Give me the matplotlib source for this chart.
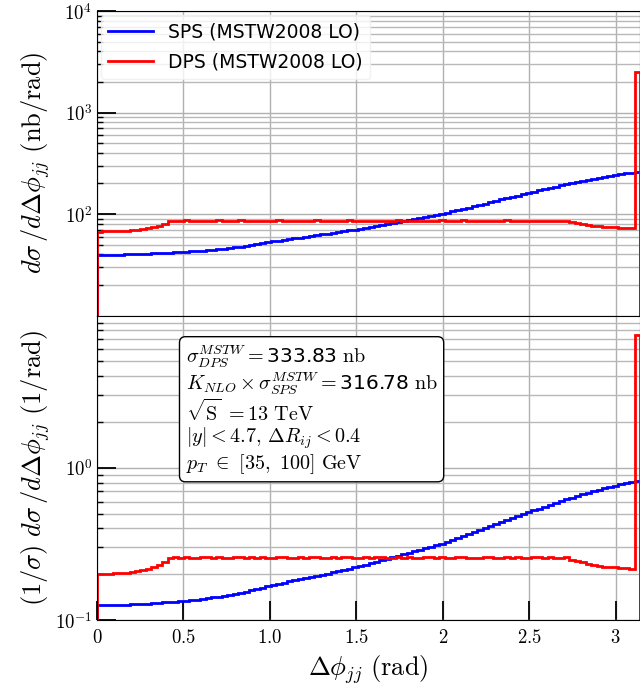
import numpy as np
import matplotlib
matplotlib.use('Agg')
import matplotlib.pyplot as plt
from matplotlib.ticker import FixedLocator, FuncFormatter, LogLocator, NullFormatter

plt.rcParams['font.family'] = ['DejaVu Sans']
plt.rcParams['mathtext.fontset'] = 'cm'

# 100 bins over [0, pi]
n_bins = 100
edges = np.linspace(0, np.pi, n_bins + 1)

# dsigma/dDphi (nb/rad)
sps = [39.6, 39.7, 39.7, 39.8, 39.9, 40.0, 40.2, 40.3, 40.5, 40.7,
       40.9, 41.1, 41.4, 41.6, 41.9, 42.1, 42.4, 42.8, 43.2, 43.6,
       44.1, 44.6, 45.1, 45.7, 46.3, 47.0, 47.8, 48.7, 49.6, 50.6,
       51.6, 52.8, 53.8, 54.8, 55.8, 56.8, 57.7, 58.6, 59.6, 60.7,
       61.8, 62.9, 64.0, 65.1, 66.3, 67.6, 68.9, 70.3, 71.8, 73.4,
       75.1, 76.8, 78.5, 80.3, 82.1, 84.0, 85.9, 87.8, 89.9, 92.0,
       94.2, 96.4, 98.6, 100.8, 103.5, 106.3, 109.2, 112.5, 115.9, 119.4,
       123.0, 126.8, 130.8, 134.9, 139.1, 143.4, 147.7, 152.2, 156.9, 161.6,
       166.4, 171.2, 176.1, 181.1, 186.2, 191.3, 196.4, 201.5, 206.6, 211.9,
       217.2, 222.4, 227.6, 232.7, 237.6, 242.3, 247.0, 251.5, 255.5, 259.0]

dps = [67.3, 67.4, 67.5, 67.8, 68.0, 68.5, 69.3, 70.2, 71.4, 72.7,
       74.0, 76.5, 80.0, 85.8, 86.2, 85.9, 86.4, 86.0, 85.7, 86.3,
       86.1, 85.8, 86.4, 86.0, 85.6, 86.2, 86.5, 85.9, 86.1, 85.7,
       86.3, 86.0, 85.8, 86.4, 86.1, 85.6, 86.0, 86.3, 85.9, 86.2,
       86.5, 85.8, 86.0, 86.3, 85.7, 86.1, 86.4, 85.9, 86.0, 86.2,
       85.6, 86.1, 86.3, 85.9, 86.0, 86.4, 85.8, 86.2, 86.0, 85.7,
       86.3, 86.1, 85.9, 86.4, 86.0, 85.8, 86.2, 86.5, 85.9, 86.0,
       85.7, 86.3, 86.1, 85.8, 86.0, 86.4, 85.9, 86.2, 86.0, 85.7,
       86.3, 86.1, 85.9, 86.2, 86.0, 85.8, 86.1, 83.0, 81.5, 80.0,
       78.5, 77.0, 76.0, 75.0, 74.5, 74.0, 73.5, 73.0, 72.8, 2480.0]

sigma_dps = 333.83   # nb
sigma_sps = 316.78   # nb (K_NLO x sigma_SPS)

fig, (ax1, ax2) = plt.subplots(2, 1, sharex=True, figsize=(6.4, 6.89), dpi=100)
fig.subplots_adjust(left=0.1516, right=1.0, top=0.984, bottom=0.1, hspace=0)

base = 1e-4
ax1.stairs(sps, edges, baseline=base, color='blue', lw=2, label='SPS (MSTW2008 LO)')
ax1.stairs(dps, edges, baseline=base, color='red', lw=2, label='DPS (MSTW2008 LO)')
ax2.stairs(np.array(sps) / sigma_sps, edges, baseline=base, color='blue', lw=2)
ax2.stairs(np.array(dps) / sigma_dps, edges, baseline=base, color='red', lw=2)

ax1.set_yscale('log')
ax2.set_yscale('log')
ax1.set_ylim(10, 1e4)
ax2.set_ylim(0.1, 10)
ax2.set_xlim(0, np.pi)

xt = [0, 0.5, 1.0, 1.5, 2, 2.5, 3]
xt_labels = ['$0$', '$0.5$', '$1.0$', '$1.5$', '$2$', '$2.5$', '$3$']
ax2.xaxis.set_major_locator(FixedLocator(xt))
ax2.set_xticklabels(xt_labels)

def logfmt(v, pos):
    return r'$10^{%d}$' % int(round(np.log10(v)))

ax1.yaxis.set_major_locator(FixedLocator([1e2, 1e3, 1e4]))
ax2.yaxis.set_major_locator(FixedLocator([1e-1, 1e0]))
for ax in (ax1, ax2):
    ax.yaxis.set_major_formatter(FuncFormatter(logfmt))
    ax.yaxis.set_minor_locator(LogLocator(base=10, subs=np.arange(2, 10), numticks=20))
    ax.yaxis.set_minor_formatter(NullFormatter())
    ax.grid(True, which='major', color='#b0b0b0', lw=1)
    ax.grid(True, which='minor', axis='y', color='#b8b8b8', lw=1)
    ax.tick_params(axis='y', which='major', direction='in', length=14, width=1.3, labelsize=13.5)
    ax.tick_params(axis='y', which='minor', direction='in', length=4, width=1)
    ax.set_axisbelow(True)

ax1.tick_params(axis='x', which='both', length=0)
ax2.tick_params(axis='x', which='major', direction='in', length=14, width=1.3, labelsize=13.5, pad=6)

ax1.set_ylabel(r'$d\sigma\,/d\Delta\phi_{jj}\ (\mathrm{nb/rad})$', fontsize=19, labelpad=2)
ax2.set_ylabel(r'$(1/\sigma)\ d\sigma\,/d\Delta\phi_{jj}\ (1/\mathrm{rad})$', fontsize=19, labelpad=2)
ax2.set_xlabel(r'$\Delta\phi_{jj}\ (\mathrm{rad})$', fontsize=19)
fig.align_ylabels([ax1, ax2])

ax1.legend(loc='upper left', fontsize=13.5, handlelength=2.4, borderaxespad=0.2,
           labelspacing=0.6, framealpha=0.8, edgecolor='#eeeeee', fancybox=True)

info = '\n'.join([
    r'$\sigma_{DPS}^{MSTW}=$' + '%.2f' % sigma_dps + r'$\ \mathrm{nb}$',
    r'$K_{NLO}\times\sigma_{SPS}^{MSTW}=$' + '%.2f' % sigma_sps + r'$\ \mathrm{nb}$',
    r'$\sqrt{\mathrm{S}}\ = 13\ \mathrm{TeV}$',
    r'$|y|<4.7,\,\Delta R_{ij}<0.4$',
    r'$p_T\ \in\ [35,\ 100]\ \mathrm{GeV}$',
])
ax2.text(0.163, 0.91, info, transform=ax2.transAxes, fontsize=14.5, va='top', ha='left',
         linespacing=1.05,
         bbox=dict(boxstyle='round,pad=0.3', fc='white', ec='black', lw=1))

plt.savefig('out.png', dpi=100)
